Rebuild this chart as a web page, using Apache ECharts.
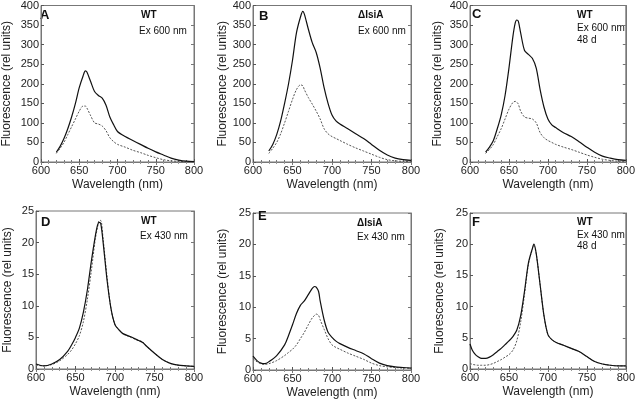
<!DOCTYPE html>
<html><head><meta charset="utf-8">
<script src="https://cdn.jsdelivr.net/npm/echarts@6/dist/echarts.min.js"></script>
<style>html,body{margin:0;padding:0;background:#fff}#c{width:638px;height:401px}</style>
</head><body><div id="c"></div>
<script>
// Panel A (WT, Ex 600 nm)
const wlA = [620,625,630,635,640,645,650,655,658,660,665,670,675,680,685,690,695,700,710,720,730,740,750,760,770,780,790,800];
const A_solid = [25,40,60,85,115,150,190,220,233,230,205,180,170,163,145,115,95,78,65,55,45,35,26,18,10,5,2,1];
const A_dotted = [22,35,50,70,90,110,130,143,143,138,118,100,97,92,80,62,52,45,38,30,24,17,11,6,3,1.5,0.5,0.3];
// Panel B (ΔIsiA, Ex 600 nm)
const wlB = [620,625,630,635,640,645,650,655,660,663,665,670,675,680,685,690,695,700,705,710,720,730,740,750,760,770,780,790,800];
const B_solid = [28,45,70,105,150,200,260,330,370,385,378,340,305,280,240,190,150,120,105,97,85,72,60,45,30,18,10,6,4];
const B_dotted = [22,35,50,72,100,130,160,185,197,195,185,165,148,130,110,85,72,65,60,55,45,36,28,20,12,6,3,1.5,1];
// Panel C (WT, Ex 600 nm, 48 d)
const wlC = [620,625,630,635,640,645,650,655,658,660,662,665,670,675,680,685,690,695,700,705,710,720,730,740,750,760,770,780,790,800];
const C_solid = [25,38,55,85,120,170,240,320,355,363,360,330,285,275,265,240,185,140,110,95,88,75,65,52,38,25,15,10,6,4];
const C_dotted = [22,32,45,65,85,110,135,152,155,153,148,130,115,112,110,100,75,62,55,50,45,38,32,25,18,12,7,4,2,1.5];
// Panel D (WT, Ex 430 nm)
const wlD = [600,610,620,630,640,645,650,655,660,665,670,675,678,680,682,685,690,695,700,705,710,720,730,735,740,750,760,770,780,790,800];
const D_solid = [0.8,0.5,0.8,1.5,2.8,3.8,5,6.5,9,12.5,17,21,22.8,23.2,23,20,14,9.5,7,6.2,5.6,5.1,4.5,4.2,3.6,2.5,1.5,0.9,0.6,0.5,0.4];
const D_dotted = [0.6,0.5,0.7,1.3,2.3,3,4,5.3,7.5,11,15.5,20.5,22.5,23.5,23.5,20.5,14.5,9.5,7,6.2,5.6,5,4.5,4.3,3.6,2.5,1.5,0.9,0.6,0.5,0.4];
// Panel E (ΔIsiA, Ex 430 nm)
const wlE = [600,605,610,615,620,630,640,645,650,655,660,665,670,675,678,680,683,685,690,695,700,705,710,720,730,740,750,760,770,780,790,800];
const E_solid = [2.2,1.5,1.1,1.0,1.3,2.3,4,5.5,7.2,9,10.3,11,12,13,13.3,13.2,12.5,11,8,6,5.2,4.6,4.2,3.6,3.1,2.6,1.8,1.1,0.7,0.5,0.4,0.3];
const E_dotted = [1.8,1.3,1.0,0.9,1.0,1.5,2.3,2.8,3.3,4.0,5,6,7.2,8.3,8.7,8.9,8.7,8,6.5,5,4,3.6,3.3,2.7,2.2,1.7,1.1,0.7,0.5,0.4,0.3,0.3];
// Panel F (WT, Ex 430 nm, 48 d)
const wlF = [600,603,607,610,615,620,625,630,635,640,645,650,655,660,665,670,675,680,682,685,690,695,700,705,710,720,730,740,750,760,770,780,790,800];
const F_solid = [4.0,3.0,2.3,2.0,1.7,1.7,1.9,2.3,2.8,3.3,3.9,4.5,5.2,6.2,8.5,12.5,17,19.3,20,18.5,13.5,8.5,5.5,4.7,4.3,3.8,3.3,2.8,2.0,1.2,0.8,0.6,0.5,0.5];
const F_dotted = [0.9,0.75,0.65,0.6,0.6,0.6,0.7,0.9,1.2,1.5,1.9,2.3,3,4.5,7.5,12,16.8,19.2,19.7,18.5,13.5,8.5,5.5,4.7,4.3,3.8,3.3,2.8,2.0,1.2,0.8,0.6,0.5,0.5];

const xTicks = [600, 650, 700, 750, 800];
const yTicksTop = [0, 50, 100, 150, 200, 250, 300, 350, 400];
const yTicksBottom = [0, 5, 10, 15, 20, 25];

const panels = [
  {wl: wlA, s: A_solid, d: A_dotted, grid: {left: 35, top: 5, width: 159, height: 157}, ymax: 400, yint: 50, nameGapY: 28},
  {wl: wlB, s: B_solid, d: B_dotted, grid: {left: 253, top: 5, width: 158, height: 157}, ymax: 400, yint: 50, nameGapY: 23},
  {wl: wlC, s: C_solid, d: C_dotted, grid: {left: 470, top: 5, width: 160, height: 157}, ymax: 400, yint: 50, nameGapY: 26},
  {wl: wlD, s: D_solid, d: D_dotted, grid: {left: 36, top: 211, width: 158, height: 158}, ymax: 25, yint: 5, nameGapY: 22},
  {wl: wlE, s: E_solid, d: E_dotted, grid: {left: 253, top: 213, width: 158, height: 157}, ymax: 25, yint: 5, nameGapY: 24},
  {wl: wlF, s: F_solid, d: F_dotted, grid: {left: 470, top: 213, width: 160, height: 156}, ymax: 25, yint: 5, nameGapY: 24}
];

const FONT = '"Liberation Sans", Arial, sans-serif';
const grids = [], xAxes = [], yAxes = [], series = [];
panels.forEach((p, i) => {
  grids.push(Object.assign({show: true, borderColor: '#777', borderWidth: 1, backgroundColor: 'transparent'}, p.grid));
  const axLine = {show: true, lineStyle: {color: '#777', width: 1}};
  xAxes.push({type: 'value', gridIndex: i, min: 600, max: 800, interval: 50, position: 'bottom',
    name: 'Wavelength (nm)', nameLocation: 'middle', nameGap: 17,
    nameTextStyle: {fontFamily: FONT, fontSize: 12, color: '#222'},
    axisLine: axLine, axisTick: {inside: true, length: 3, lineStyle: {color: '#555'}},
    minorTick: {show: true, splitNumber: 5, length: 2, lineStyle: {color: '#777'}},
    axisLabel: {fontFamily: FONT, fontSize: 11, color: '#222', margin: 3}, splitLine: {show: false}});
  xAxes.push({type: 'value', gridIndex: i, min: 600, max: 800, interval: 50, position: 'top',
    axisLine: axLine, axisTick: {inside: true, length: 3, lineStyle: {color: '#777'}},
    minorTick: {show: true, splitNumber: 5, length: 2, lineStyle: {color: '#999'}},
    axisLabel: {show: false}, splitLine: {show: false}});
  yAxes.push({type: 'value', gridIndex: i, min: 0, max: p.ymax, interval: p.yint, position: 'left',
    name: 'Fluorescence (rel units)', nameLocation: 'middle', nameGap: p.nameGapY, nameRotate: 90,
    nameTextStyle: {fontFamily: FONT, fontSize: 12, color: '#222'},
    axisLine: axLine, axisTick: {inside: true, length: 3, lineStyle: {color: '#555'}},
    axisLabel: {fontFamily: FONT, fontSize: 11, color: '#222', margin: 2}, splitLine: {show: false}});
  yAxes.push({type: 'value', gridIndex: i, min: 0, max: p.ymax, interval: p.yint, position: 'right',
    axisLine: axLine, axisTick: {inside: true, length: 3, lineStyle: {color: '#777'}},
    axisLabel: {show: false}, splitLine: {show: false}});
  series.push({type: 'line', xAxisIndex: 2 * i, yAxisIndex: 2 * i, showSymbol: false, symbol: 'none', smooth: 0.3,
    data: p.wl.map((w, k) => [w, p.d[k]]), lineStyle: {color: '#555', width: 1, type: [2, 1.5]}, z: 2});
  series.push({type: 'line', xAxisIndex: 2 * i, yAxisIndex: 2 * i, showSymbol: false, symbol: 'none', smooth: 0.3,
    data: p.wl.map((w, k) => [w, p.s[k]]), lineStyle: {color: '#111', width: 1.2}, z: 3});
});

function txt(x, y, s, size, bold) {
  return {type: 'text', left: x, top: y, style: {text: s, fontFamily: FONT, fontSize: size, fontWeight: bold ? 'bold' : 'normal', fill: '#111'}};
}
const graphics = [
  txt(40, 9, 'A', 13, true), txt(141, 10, 'WT', 10, true), txt(139, 26, 'Ex 600 nm', 10, false),
  txt(259, 10, 'B', 13, true), txt(358, 10, 'ΔIsiA', 10, true), txt(358, 26, 'Ex 600 nm', 10, false),
  txt(472, 8, 'C', 13, true), txt(577, 10, 'WT', 10, true), txt(577, 23, 'Ex 600 nm', 10, false), txt(577, 35, '48 d', 10, false),
  txt(41, 216, 'D', 13, true), txt(141, 216, 'WT', 10, true), txt(140, 231, 'Ex 430 nm', 10, false),
  txt(258, 210, 'E', 13, true), txt(357, 218, 'ΔIsiA', 10, true), txt(357, 232, 'Ex 430 nm', 10, false),
  txt(472, 216, 'F', 13, true), txt(577, 217, 'WT', 10, true), txt(577, 230, 'Ex 430 nm', 10, false), txt(577, 241, '48 d', 10, false)
];

const chart = echarts.init(document.getElementById('c'), null, {renderer: 'canvas'});
chart.setOption({animation: false, backgroundColor: '#fff', grid: grids, xAxis: xAxes, yAxis: yAxes, series: series, graphic: graphics});
</script></body></html>
